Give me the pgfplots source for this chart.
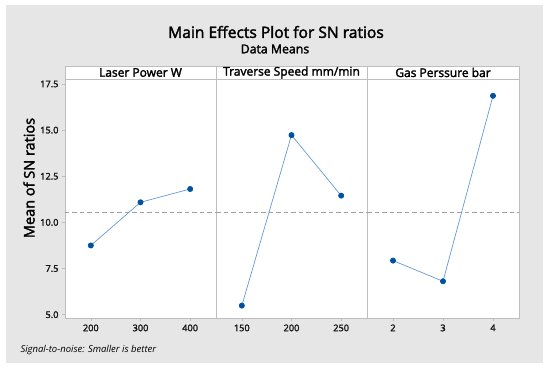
\documentclass[border=0pt]{standalone}
\usepackage{fontspec}
\setmainfont{Open Sans}
\newfontfamily\sbfont{Open Sans}[FakeBold=2.2]
\usepackage{pgfplots}
\pgfplotsset{compat=1.18}
\definecolor{bg}{RGB}{230,230,230}
\definecolor{frm}{RGB}{190,190,190}
\definecolor{ln}{RGB}{100,155,215}
\definecolor{mk}{RGB}{0,82,160}
\definecolor{meanc}{RGB}{160,160,160}
\begin{document}
\begin{tikzpicture}
\fill[white] (0pt,0pt) rectangle (550pt,369pt);
\fill[bg] (6pt,6pt) rectangle (543pt,364pt);
\pgfplotsset{panel/.style={
  scale only axis, width=151pt, height=239pt, anchor=south west,
  xmin=-0.52, xmax=2.52, ymin=4.82, ymax=17.77,
  axis line style={frm, line width=0.8pt},
  tick style={frm, line width=0.6pt}, tick align=outside, major tick length=3pt,
  xtick pos=bottom, ytick pos=left,
  xtick={0,1,2},
  ytick={5,7.5,10,12.5,15,17.5},
  ticklabel style={font=\fontsize{9.2}{10}\sbfont, text=black!90},
  /pgf/number format/assume math mode=true,
  yticklabel style={/pgf/number format/.cd, fixed, fixed zerofill, precision=1},
  axis background/.style={fill=white},
  clip=false,
}}
% Laser Power
\begin{axis}[panel, at={(65pt,51pt)}, xticklabels={200,300,400}]
\addplot[meanc, line width=0.8pt, dash pattern=on 4.5pt off 3pt] coordinates {(-0.52,10.55) (2.52,10.55)};
\addplot[ln, line width=0.7pt, mark=*, mark size=2.6pt, mark options={mk, fill=mk}] coordinates {(0,8.75) (1,11.09) (2,11.81)};
\end{axis}
% Traverse Speed
\begin{axis}[panel, at={(216pt,51pt)}, xticklabels={150,200,250}, ytick=\empty]
\addplot[meanc, line width=0.8pt, dash pattern=on 4.5pt off 3pt] coordinates {(-0.52,10.55) (2.52,10.55)};
\addplot[ln, line width=0.7pt, mark=*, mark size=2.6pt, mark options={mk, fill=mk}] coordinates {(0,5.49) (1,14.73) (2,11.45)};
\end{axis}
% Gas Pressure
\begin{axis}[panel, at={(367pt,51pt)}, width=152pt, xticklabels={2,3,4}, ytick=\empty]
\addplot[meanc, line width=0.8pt, dash pattern=on 4.5pt off 3pt] coordinates {(-0.52,10.55) (2.52,10.55)};
\addplot[ln, line width=0.7pt, mark=*, mark size=2.6pt, mark options={mk, fill=mk}] coordinates {(0,7.93) (1,6.81) (2,16.86)};
\end{axis}
% header strip
\draw[frm, line width=0.8pt, fill=white] (65pt,290pt) rectangle (519pt,303pt);
\draw[frm, line width=0.8pt] (216pt,290pt) -- (216pt,303pt) (367pt,290pt) -- (367pt,303pt);
\node[font=\fontsize{12}{12}\sbfont, inner sep=0pt] at (140.5pt,296.5pt) {Laser Power W};
\node[font=\fontsize{12}{12}\sbfont, inner sep=0pt] at (291.5pt,296.5pt) {Traverse Speed mm/min};
\node[font=\fontsize{12}{12}\sbfont, inner sep=0pt] at (443pt,296.5pt) {Gas Perssure bar};
% titles
\node[font=\fontsize{15.6}{17}\sbfont] at (276pt,337pt) {Main Effects Plot for SN ratios};
\node[font=\fontsize{12.3}{13}\sbfont] at (275pt,320pt) {Data Means};
\node[font=\fontsize{14.5}{15}\sbfont, rotate=90] at (29pt,191pt) {Mean of SN ratios};
\node[font=\fontsize{9.5}{10}\selectfont\itshape, anchor=west] at (17pt,18.5pt) {Signal-to-noise: Smaller is better};
\end{tikzpicture}
\end{document}
